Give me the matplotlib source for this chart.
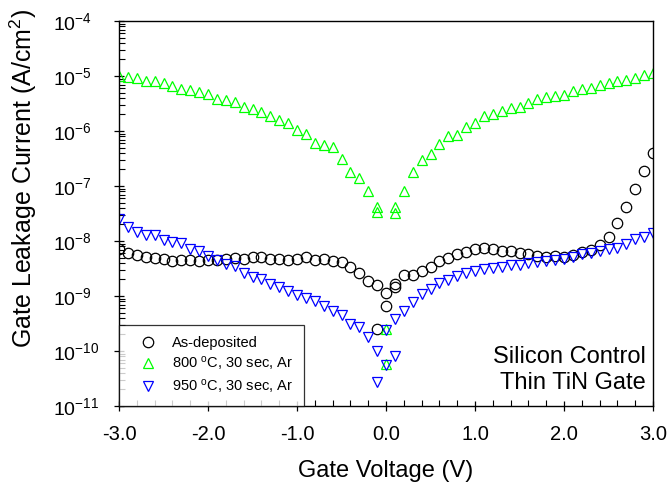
import numpy as np
import matplotlib
matplotlib.use('Agg')
import matplotlib.pyplot as plt
from matplotlib.ticker import LogLocator, MultipleLocator, FormatStrFormatter

plt.rcParams['font.family'] = ['Liberation Sans', 'DejaVu Sans']
plt.rcParams['mathtext.default'] = 'regular'
plt.rcParams['axes.unicode_minus'] = False

# gate voltage sweep (V)
v_neg = [-3.0, -2.9, -2.8, -2.7, -2.6, -2.5, -2.4, -2.3, -2.2, -2.1,
         -2.0, -1.9, -1.8, -1.7, -1.6, -1.5, -1.4, -1.3, -1.2, -1.1,
         -1.0, -0.9, -0.8, -0.7, -0.6, -0.5, -0.4, -0.3, -0.2, -0.1]
v_mid = [-0.1, 0.0, 0.0, 0.1, 0.1]
v_pos = [0.2, 0.3, 0.4, 0.5, 0.6, 0.7, 0.8, 0.9, 1.0, 1.1,
         1.2, 1.3, 1.4, 1.5, 1.6, 1.7, 1.8, 1.9, 2.0, 2.1,
         2.2, 2.3, 2.4, 2.5, 2.6, 2.7, 2.8, 2.9, 3.0]

# log10 of leakage current (A/cm^2)
asdep_neg = [-8.145, -8.224, -8.260, -8.285, -8.304, -8.333, -8.358, -8.340, -8.345, -8.358,
             -8.351, -8.351, -8.322, -8.309, -8.333, -8.291, -8.296, -8.322, -8.322, -8.340,
             -8.322, -8.296, -8.351, -8.322, -8.364, -8.382, -8.478, -8.587, -8.733, -8.805]
asdep_mid = [-9.595, -8.940, -9.182, -8.782, -8.842]
asdep_pos = [-8.618, -8.618, -8.540, -8.467, -8.358, -8.304, -8.236, -8.195, -8.151, -8.127,
             -8.145, -8.176, -8.182, -8.218, -8.242, -8.267, -8.285, -8.267, -8.285, -8.255,
             -8.200, -8.164, -8.067, -7.922, -7.667, -7.376, -7.060, -6.733, -6.405]

t800_neg = [-5.000, -5.013, -5.042, -5.085, -5.091, -5.133, -5.182, -5.231, -5.255, -5.285,
            -5.327, -5.413, -5.431, -5.467, -5.564, -5.595, -5.649, -5.733, -5.795, -5.860,
            -5.976, -6.055, -6.224, -6.260, -6.291, -6.515, -6.740, -6.855, -7.096, -7.376]
t800_mid = [-7.467, -9.605, -10.242, -7.376, -7.485]
t800_pos = [-7.085, -6.740, -6.522, -6.413, -6.236, -6.085, -6.073, -5.933, -5.849, -5.727,
            -5.691, -5.642, -5.582, -5.558, -5.485, -5.424, -5.387, -5.364, -5.345, -5.267,
            -5.236, -5.213, -5.169, -5.133, -5.085, -5.073, -5.042, -4.987, -4.951]

t950_neg = [-7.600, -7.740, -7.842, -7.885, -7.891, -7.982, -8.013, -8.042, -8.145, -8.187,
            -8.267, -8.345, -8.424, -8.449, -8.576, -8.649, -8.696, -8.776, -8.831, -8.909,
            -8.982, -9.036, -9.085, -9.176, -9.278, -9.351, -9.509, -9.555, -9.745, -10.009]
t950_mid = [-10.558, -9.618, -10.255, -10.085, -9.424]
t950_pos = [-9.273, -9.100, -8.964, -8.867, -8.769, -8.709, -8.631, -8.576, -8.540, -8.509,
            -8.491, -8.467, -8.442, -8.431, -8.405, -8.376, -8.364, -8.345, -8.333, -8.285,
            -8.236, -8.213, -8.182, -8.145, -8.133, -8.060, -7.969, -7.922, -7.849]

labels = ['As-deposited', '800 $^{o}$C, 30 sec, Ar', '950 $^{o}$C, 30 sec, Ar']

v = np.array(v_neg + v_mid + v_pos)
series = [
    (asdep_neg + asdep_mid + asdep_pos, 'o', 'black'),
    (t800_neg + t800_mid + t800_pos, '^', '#00ff00'),
    (t950_neg + t950_mid + t950_pos, 'v', '#0000ff'),
]

fig = plt.figure(figsize=(6.72, 4.93), dpi=100)
ax = fig.add_axes([119/672, 1 - 406/493, 534/672, 385/493])

for (logi, mk, col), lab in zip(series, labels):
    ax.plot(v, 10**np.array(logi), linestyle='none', marker=mk, ms=7.5,
            mfc='none', mec=col, mew=0.9, label=lab)

ax.set_yscale('log')
ax.set_xlim(-3.0, 3.0)
ax.set_ylim(1e-11, 1e-4)
ax.xaxis.set_major_locator(MultipleLocator(1.0))
ax.xaxis.set_minor_locator(MultipleLocator(0.2))
ax.xaxis.set_major_formatter(FormatStrFormatter('%.1f'))
ax.yaxis.set_major_locator(LogLocator(base=10, numticks=20))
ax.yaxis.set_minor_locator(LogLocator(base=10, subs=np.arange(2, 10), numticks=20))

ax.tick_params(which='major', direction='inout', length=7.5, width=0.9,
               top=False, right=False)
ax.tick_params(which='minor', direction='in', length=4, width=0.8,
               top=False, right=False)
ax.tick_params(axis='x', which='major', pad=10, labelsize=14.5)
# y tick labels are left aligned, as in the original
ax.tick_params(axis='y', which='major', pad=44, labelsize=14)
plt.setp(ax.get_yticklabels(), ha='left')
for s in ax.spines.values():
    s.set_linewidth(1.0)

ax.set_xlabel('Gate Voltage (V)', fontsize=17)
ax.set_ylabel('Gate Leakage Current (A/cm$^2$)', fontsize=18)
ax.xaxis.set_label_coords(0.5, -0.14)
ax.yaxis.set_label_coords(-0.15, 0.59)

leg = ax.legend(loc='lower left', bbox_to_anchor=(0, 0), fontsize=10.5,
                frameon=True, fancybox=False, borderaxespad=0,
                handletextpad=0.4, borderpad=0.75, labelspacing=0.32,
                handlelength=2.5)
leg.get_frame().set_edgecolor('black')
leg.get_frame().set_linewidth(0.9)

ax.text(0.987, 0.03, 'Silicon Control\nThin TiN Gate', transform=ax.transAxes,
        ha='right', va='bottom', fontsize=17, linespacing=1.24)

fig.savefig('out.png', dpi=100)
